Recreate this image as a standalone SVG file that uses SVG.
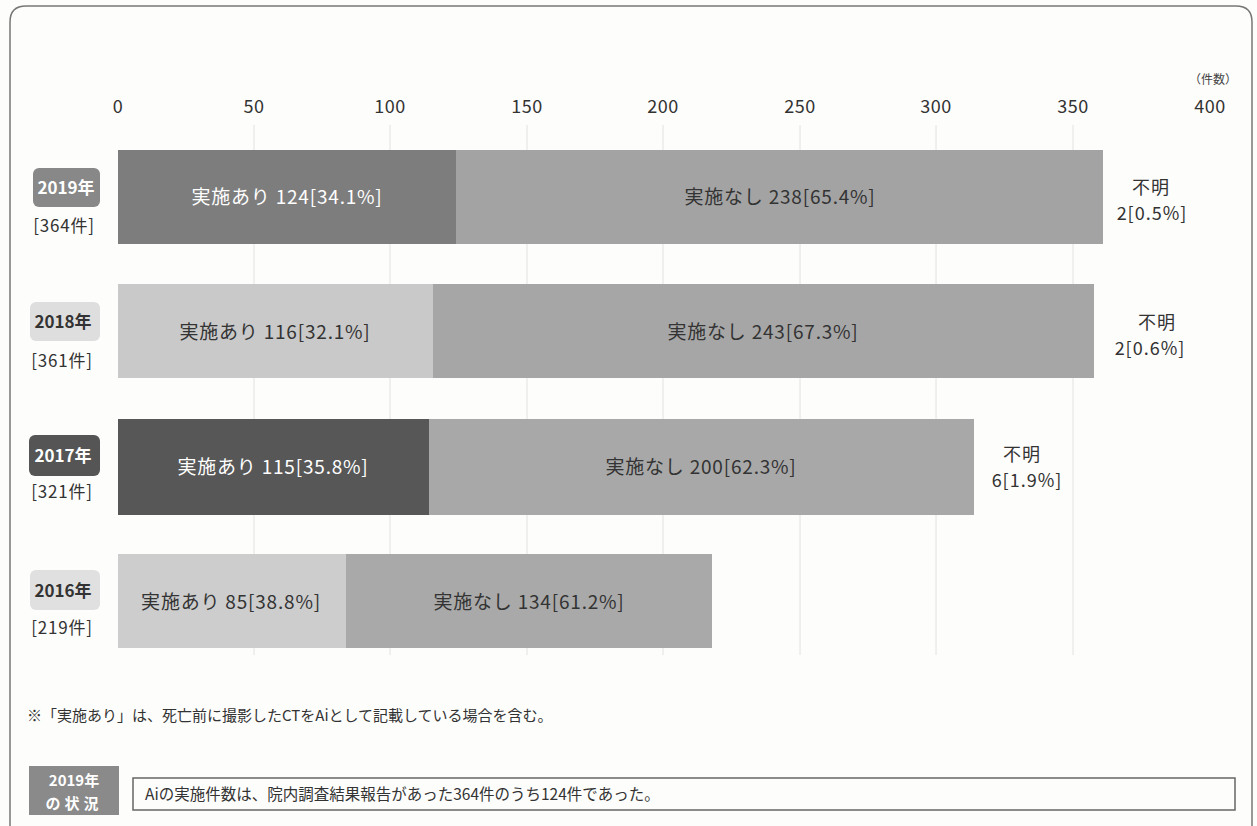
<svg xmlns="http://www.w3.org/2000/svg" width="1257" height="826" viewBox="0 0 1257 826">
<style>
text{font-family:"Noto Sans CJK JP","Noto Sans",sans-serif;}
.ax{font-size:18px;fill:#333;text-anchor:middle;letter-spacing:0.5px;}
.lbl{font-size:19px;text-anchor:middle;letter-spacing:0.8px;}
.w{fill:#fff;}
.d{fill:#333;}
.yr{font-size:17px;font-weight:bold;text-anchor:middle;}
.cnt{font-size:17px;fill:#333;text-anchor:middle;letter-spacing:0.8px;}
.unk{font-size:18px;fill:#333;text-anchor:middle;letter-spacing:1px;}
.grid{stroke:#e2e2e2;stroke-width:1;}
</style>
<rect width="1257" height="826" fill="#fdfdfb"/>
<path d="M10,840 V22 Q10,6 26,6 H1236 Q1252,6 1252,22 V840" fill="none" stroke="#777" stroke-width="1.5"/>
<g id="axis">
<g class="grid">
<line x1="254" y1="125" x2="254" y2="655"/><line x1="390" y1="125" x2="390" y2="655"/><line x1="527" y1="125" x2="527" y2="655"/><line x1="663" y1="125" x2="663" y2="655"/><line x1="800" y1="125" x2="800" y2="655"/><line x1="936" y1="125" x2="936" y2="655"/><line x1="1073" y1="125" x2="1073" y2="655"/>
</g>
<text class="ax" x="118" y="113">0</text>
<text class="ax" x="254" y="113">50</text>
<text class="ax" x="390" y="113">100</text>
<text class="ax" x="527" y="113">150</text>
<text class="ax" x="663" y="113">200</text>
<text class="ax" x="800" y="113">250</text>
<text class="ax" x="936" y="113">300</text>
<text class="ax" x="1073" y="113">350</text>
<text class="ax" x="1210" y="113">400</text>
<text x="1213" y="84" font-size="12" fill="#444" text-anchor="middle">（件数）</text>
</g>
<g id="row2019">
<rect x="33" y="168" width="67" height="39" rx="6" fill="#888"/>
<text class="yr w" x="66" y="194">2019年</text>
<text class="cnt" x="64" y="232">[364件]</text>
<rect x="118" y="150" width="338" height="94" fill="#7d7d7d"/>
<rect x="456" y="150" width="647" height="94" fill="#a3a3a3"/>
<text class="lbl w" x="287" y="204">実施あり 124[34.1%]</text>
<text class="lbl d" x="780" y="204">実施なし 238[65.4%]</text>
<text class="unk" x="1151" y="194">不明</text>
<text class="unk" x="1152" y="220">2[0.5%]</text>
</g>
<g id="row2018">
<rect x="30" y="302" width="70" height="39" rx="6" fill="#dedede"/>
<text class="yr d" x="63" y="328">2018年</text>
<text class="cnt" x="62" y="367">[361件]</text>
<rect x="118" y="284" width="315" height="94" fill="#c9c9c9"/>
<rect x="433" y="284" width="661" height="94" fill="#a6a6a6"/>
<text class="lbl d" x="275" y="339">実施あり 116[32.1%]</text>
<text class="lbl d" x="763" y="339">実施なし 243[67.3%]</text>
<text class="unk" x="1157" y="329">不明</text>
<text class="unk" x="1150" y="355">2[0.6%]</text>
</g>
<g id="row2017">
<rect x="29" y="435" width="71" height="41" rx="6" fill="#555"/>
<text class="yr w" x="63" y="462">2017年</text>
<text class="cnt" x="62" y="498">[321件]</text>
<rect x="118" y="419" width="311" height="96" fill="#575757"/>
<rect x="429" y="419" width="545" height="96" fill="#a8a8a8"/>
<text class="lbl w" x="273" y="474">実施あり 115[35.8%]</text>
<text class="lbl d" x="701" y="474">実施なし 200[62.3%]</text>
<text class="unk" x="1022" y="461">不明</text>
<text class="unk" x="1027" y="487">6[1.9%]</text>
</g>
<g id="row2016">
<rect x="30" y="570" width="70" height="40" rx="6" fill="#e0e0e0"/>
<text class="yr d" x="63" y="597">2016年</text>
<text class="cnt" x="62" y="634">[219件]</text>
<rect x="118" y="554" width="228" height="94" fill="#cdcdcd"/>
<rect x="346" y="554" width="366" height="94" fill="#a9a9a9"/>
<text class="lbl d" x="231" y="609">実施あり 85[38.8%]</text>
<text class="lbl d" x="529" y="609">実施なし 134[61.2%]</text>
</g>
<g id="note">
<text x="27" y="721" font-size="15" fill="#333">※「実施あり」は、死亡前に撮影したCTをAiとして記載している場合を含む。</text>
</g>
<g id="summary">
<rect x="29" y="766" width="90" height="49" fill="#8a8a8a"/>
<text x="74" y="786" font-size="15" font-weight="bold" fill="#fff" text-anchor="middle">2019年</text>
<text x="74" y="809" font-size="15" font-weight="bold" fill="#fff" text-anchor="middle" letter-spacing="4">の状況</text>
<rect x="133" y="778" width="1102" height="32" fill="none" stroke="#666" stroke-width="1.5"/>
<text x="145" y="800" font-size="15.5" fill="#333">Aiの実施件数は、院内調査結果報告があった364件のうち124件であった。</text>
</g>
</svg>
